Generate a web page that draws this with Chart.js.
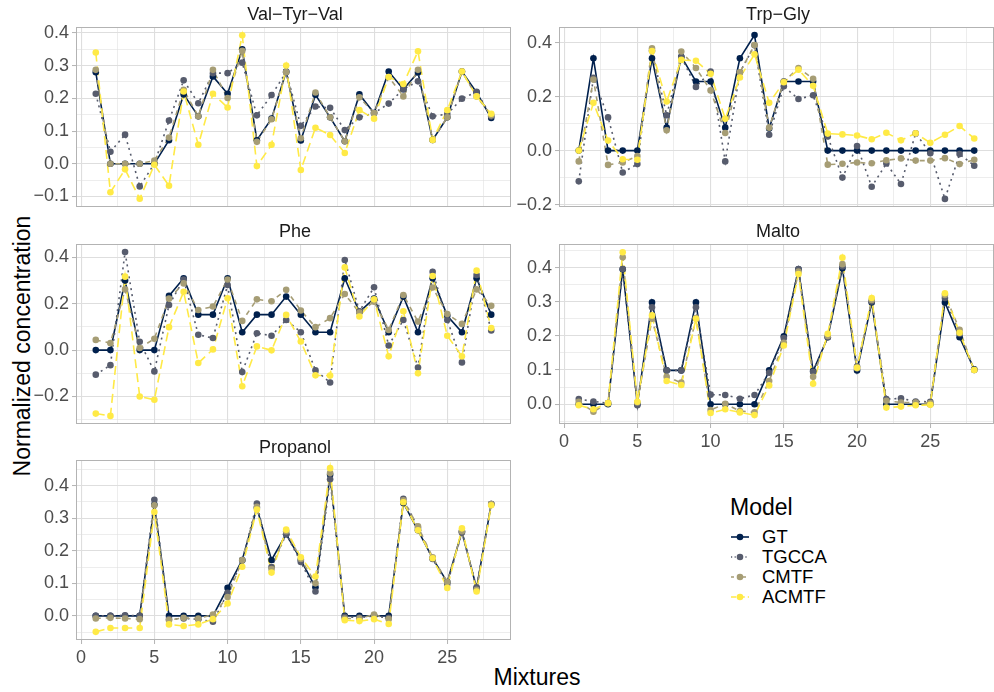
<!DOCTYPE html>
<html>
<head>
<meta charset="utf-8">
<script src="https://cdn.jsdelivr.net/npm/chart.js@4.4.0/dist/chart.umd.min.js"></script>
<style>
  body { margin: 0; background: #fff; }
  #wrap { position: relative; width: 994px; height: 692px; overflow: hidden;
          font-family: "Liberation Sans", Arial, sans-serif; }
  #wrap canvas { position: absolute; }
  .strip { position: absolute; font-size: 18px; color: #1a1a1a; white-space: nowrap;
           transform: translate(-50%, -50%); }
  .axtitle { position: absolute; font-size: 23px; color: #000; white-space: nowrap;
             transform: translate(-50%, -50%); }
  #ytitle { transform: translate(-50%, -50%) rotate(-90deg); }
  #legend { position: absolute; left: 730px; top: 494px; }
  #legend .ltitle { font-size: 23px; color: #000; margin-bottom: 6px; }
  #legend .item { display: flex; align-items: center; height: 20px; }
  #legend .item span { font-size: 18.5px; color: #000; margin-left: 12px; }
</style>
</head>
<body>
<div id="wrap">
  <div class="axtitle" id="ytitle" style="left:22px; top:346px;">Normalized concentration</div>
  <div class="axtitle" style="left:537px; top:677px;">Mixtures</div>
  <div id="legend"></div>
</div>
<script>
const FONT = '"Liberation Sans", Arial, sans-serif';

// =============== DATA ===============
const mixtures = [1, 2, 3, 4, 5, 6, 7, 8, 9, 10, 11, 12, 13, 14, 15, 16, 17, 18, 19, 20, 21, 22, 23, 24, 25, 26, 27, 28];
const models = ["GT", "TGCCA", "CMTF", "ACMTF"];
const xTickLabels = [0, 5, 10, 15, 20, 25];

// Val−Tyr−Val
const valGT    = [0.28, 0, 0, 0, 0, 0.072, 0.212, 0.145, 0.267, 0.214, 0.35, 0.072, 0.138, 0.282, 0.071, 0.211, 0.142, 0.069, 0.212, 0.155, 0.282, 0.228, 0.279, 0.073, 0.142, 0.282, 0.218, 0.14];
const valTGCCA = [0.214, 0.037, 0.089, -0.069, 0, 0.132, 0.255, 0.185, 0.277, 0.277, 0.309, 0.148, 0.21, 0.28, 0.116, 0.175, 0.171, 0.103, 0.142, 0.155, 0.184, 0.228, 0.252, 0.145, 0.152, 0.199, 0.22, 0.145];
const valCMTF  = [0.287, 0, 0, 0, 0.01, 0.08, 0.226, 0.145, 0.287, 0.201, 0.345, 0.067, 0.136, 0.28, 0.078, 0.218, 0.142, 0.069, 0.203, 0.155, 0.265, 0.206, 0.287, 0.073, 0.142, 0.282, 0.206, 0.148];
const valACMTF = [0.34, -0.087, -0.017, -0.107, -0.003, -0.067, 0.221, 0.058, 0.214, 0.172, 0.393, -0.007, 0.058, 0.3, -0.019, 0.11, 0.088, 0.033, 0.164, 0.138, 0.265, 0.244, 0.344, 0.073, 0.164, 0.282, 0.206, 0.153];
const valTicks = [-0.1, 0, 0.1, 0.2, 0.3, 0.4];

// Trp−Gly
const trpGT    = [0, 0.342, 0, 0, 0, 0.342, 0.085, 0.348, 0.256, 0.256, 0.085, 0.342, 0.428, 0.082, 0.256, 0.256, 0.256, 0, 0, 0, 0, 0, 0, 0, 0, 0, 0, 0];
const trpTGCCA = [-0.114, 0.27, 0.123, -0.081, -0.05, 0.37, 0.131, 0.347, 0.236, 0.293, -0.04, 0.29, 0.39, 0.059, 0.238, 0.191, 0.205, 0.052, -0.1, 0.017, -0.134, -0.048, -0.124, 0.064, -0.01, -0.179, -0.013, -0.056];
const trpCMTF  = [-0.04, 0.263, -0.053, -0.044, -0.02, 0.379, 0.075, 0.367, 0.306, 0.223, 0.065, 0.29, 0.391, 0.085, 0.256, 0.306, 0.266, -0.052, -0.049, -0.044, -0.047, -0.036, -0.029, -0.037, -0.037, -0.028, -0.05, -0.034];
const trpACMTF = [0, 0.177, 0.037, -0.032, -0.034, 0.369, 0.182, 0.336, 0.333, 0.285, 0.118, 0.271, 0.357, 0.177, 0.253, 0.3, 0.24, 0.063, 0.06, 0.056, 0.042, 0.066, 0.038, 0.064, 0.029, 0.059, 0.091, 0.045];
const trpTicks = [-0.2, 0, 0.2, 0.4];

// Phe
const pheGT    = [0, 0, 0.3, 0, 0, 0.234, 0.31, 0.153, 0.153, 0.31, 0.077, 0.153, 0.153, 0.231, 0.153, 0.077, 0.077, 0.31, 0.165, 0.222, 0.077, 0.231, 0.077, 0.31, 0.148, 0.077, 0.31, 0.153];
const pheTGCCA = [-0.106, -0.065, 0.423, 0.036, -0.092, 0.195, 0.305, 0.066, 0.052, 0.281, -0.095, 0.073, 0.062, 0.13, 0.077, -0.087, -0.14, 0.389, 0.168, 0.271, 0.02, 0.13, -0.075, 0.338, 0.13, -0.053, 0.324, 0.085];
const pheCMTF  = [0.044, 0.03, 0.262, 0.009, 0.049, 0.222, 0.288, 0.173, 0.188, 0.305, 0.126, 0.219, 0.211, 0.26, 0.171, 0.099, 0.138, 0.242, 0.162, 0.209, 0.087, 0.238, 0.123, 0.27, 0.156, 0.113, 0.262, 0.191];
const pheACMTF = [-0.274, -0.284, 0.317, -0.2, -0.214, 0.099, 0.252, -0.056, 0.003, 0.224, -0.156, 0.016, -0.001, 0.152, 0.037, -0.109, -0.11, 0.357, 0.145, 0.219, -0.027, 0.168, -0.1, 0.32, 0.062, -0.027, 0.343, 0.095];
const pheTicks = [-0.2, 0, 0.2, 0.4];

// Malto
const maltoGT    = [0, 0, 0, 0.395, 0, 0.298, 0.099, 0.099, 0.298, 0, 0, 0, 0, 0.099, 0.199, 0.395, 0.097, 0.196, 0.398, 0.099, 0.298, 0, 0, 0, 0, 0.298, 0.196, 0.102];
const maltoTGCCA = [0.015, 0.008, 0.003, 0.396, -0.003, 0.284, 0.099, 0.099, 0.284, 0.028, 0.027, 0.016, 0.027, 0.092, 0.194, 0.396, 0.095, 0.196, 0.403, 0.11, 0.301, 0.015, 0.017, 0.008, 0.007, 0.311, 0.206, 0.1];
const maltoCMTF  = [0.007, -0.022, 0.003, 0.43, 0.005, 0.25, 0.08, 0.063, 0.252, -0.017, 0.001, -0.02, -0.024, 0.068, 0.18, 0.388, 0.08, 0.2, 0.41, 0.105, 0.305, 0.01, 0.005, 0.005, 0.003, 0.32, 0.218, 0.1];
const maltoACMTF = [-0.003, -0.015, 0.003, 0.445, 0.007, 0.26, 0.068, 0.056, 0.25, -0.026, -0.015, -0.024, -0.032, 0.055, 0.172, 0.381, 0.06, 0.206, 0.429, 0.107, 0.311, -0.01, -0.007, -0.003, -0.002, 0.325, 0.209, 0.1];
const maltoTicks = [0, 0.1, 0.2, 0.3, 0.4];

// Propanol
const propGT    = [0, 0, 0, 0, 0.342, 0, 0, 0, 0, 0.086, 0.172, 0.332, 0.172, 0.251, 0.172, 0.088, 0.434, 0, 0, 0, 0, 0.347, 0.263, 0.177, 0.104, 0.259, 0.085, 0.344];
const propTGCCA = [0, 0, 0.002, 0, 0.357, -0.01, -0.008, -0.01, -0.018, 0.071, 0.17, 0.345, 0.15, 0.251, 0.166, 0.075, 0.42, -0.003, -0.005, 0, -0.006, 0.36, 0.27, 0.175, 0.098, 0.256, 0.088, 0.344];
const propCMTF  = [-0.008, -0.006, -0.008, -0.01, 0.34, -0.013, -0.006, -0.008, 0.004, 0.058, 0.172, 0.335, 0.144, 0.26, 0.175, 0.1, 0.439, -0.008, -0.008, 0.004, -0.01, 0.355, 0.275, 0.18, 0.104, 0.26, 0.08, 0.344];
const propACMTF = [-0.049, -0.037, -0.037, -0.037, 0.319, -0.026, -0.031, -0.026, -0.01, 0.038, 0.151, 0.327, 0.133, 0.265, 0.18, 0.121, 0.454, -0.013, -0.016, -0.01, -0.025, 0.349, 0.263, 0.177, 0.086, 0.269, 0.075, 0.34];
const propTicks = [0, 0.1, 0.2, 0.3, 0.4];

// =============== STYLE / LAYOUT ===============
const modelColors = ["#00204D", "#575C6D", "#A69D75", "#FFEA46"];
const modelDash = [[], [2, 4], [5, 5], [9, 5]];

const PLOT_W = 438, PLOT_H = 180, PAD = 12;
const panels = [
  { title: "Val−Tyr−Val", series: [valGT, valTGCCA, valCMTF, valACMTF], yTicks: valTicks, yMin: -0.132, yMax: 0.418, left: 76, top: 27, axisW: 76, xAxis: false },
  { title: "Trp−Gly", series: [trpGT, trpTGCCA, trpCMTF, trpACMTF], yTicks: trpTicks, yMin: -0.209, yMax: 0.458, left: 559, top: 27, axisW: 79, xAxis: false },
  { title: "Phe", series: [pheGT, pheTGCCA, pheCMTF, pheACMTF], yTicks: pheTicks, yMin: -0.319, yMax: 0.458, left: 76, top: 243.5, axisW: 76, xAxis: false },
  { title: "Malto", series: [maltoGT, maltoTGCCA, maltoCMTF, maltoACMTF], yTicks: maltoTicks, yMin: -0.058, yMax: 0.469, left: 559, top: 243.5, axisW: 79, xAxis: true },
  { title: "Propanol", series: [propGT, propTGCCA, propCMTF, propACMTF], yTicks: propTicks, yMin: -0.074, yMax: 0.479, left: 76, top: 459.5, axisW: 76, xAxis: true },
];

// major + minor grid positions (minor halfway, extended one step past the ends)
function gridValues(major, min, max) {
  const step = major[1] - major[0];
  const out = [];
  for (let v = major[0] - step; v <= major[major.length - 1] + step + 1e-9; v += step / 2) {
    const r = Math.round(v * 1000) / 1000;
    if (r >= min && r <= max) out.push(r);
  }
  return out;
}
const isIn = (list, v) => list.some(t => Math.abs(t - v) < 1e-6);
const fmt = v => (v < 0 ? "−" : "") + Math.abs(v).toFixed(1);

const GRID = "#dedede";
const BORDER = "#b3b3b3";

const panelBorder = {
  id: "panelBorder",
  afterDatasetsDraw(chart) {
    const { ctx, chartArea: a } = chart;
    ctx.save();
    ctx.strokeStyle = BORDER;
    ctx.lineWidth = 1;
    ctx.strokeRect(Math.round(a.left) + 0.5, Math.round(a.top) + 0.5, Math.round(a.right - a.left) - 1, Math.round(a.bottom - a.top) - 1);
    ctx.restore();
  }
};

const wrap = document.getElementById("wrap");

function addPanel(p) {
  const xH = p.xAxis ? 30 : 0;
  const w = p.axisW + PLOT_W + 1;
  const h = PAD + PLOT_H + xH + PAD;
  const cv = document.createElement("canvas");
  cv.width = w; cv.height = h;
  cv.style.width = w + "px"; cv.style.height = h + "px";
  cv.style.left = (p.left - p.axisW) + "px";
  cv.style.top = (p.top - PAD) + "px";
  wrap.appendChild(cv);

  const strip = document.createElement("div");
  strip.className = "strip";
  strip.textContent = p.title;
  strip.style.left = (p.left + PLOT_W / 2) + "px";
  strip.style.top = (p.top - 13) + "px";
  wrap.appendChild(strip);

  const xGrid = gridValues(xTickLabels, -0.35, 29.35);
  const yGrid = gridValues(p.yTicks, p.yMin, p.yMax);

  // lines first (under), then points, like geom_line + geom_point
  const datasets = [];
  p.series.forEach((vals, i) => {
    datasets.push({
      label: models[i] + " line",
      data: mixtures.map((m, k) => ({ x: m, y: vals[k] })),
      borderColor: modelColors[i],
      borderWidth: 1.6,
      borderDash: modelDash[i],
      pointRadius: 0,
      fill: false,
      tension: 0,
      order: 8 - i
    });
  });
  p.series.forEach((vals, i) => {
    datasets.push({
      label: models[i],
      data: mixtures.map((m, k) => ({ x: m, y: vals[k] })),
      showLine: false,
      pointRadius: 3.3,
      pointBackgroundColor: modelColors[i],
      pointBorderColor: modelColors[i],
      pointBorderWidth: 0,
      order: 4 - i
    });
  });

  new Chart(cv, {
    type: "line",
    data: { datasets },
    plugins: [panelBorder],
    options: {
      responsive: false,
      animation: false,
      devicePixelRatio: 1,
      layout: { padding: { top: PAD, bottom: PAD, left: 0, right: 1 } },
      plugins: { legend: { display: false }, tooltip: { enabled: false } },
      scales: {
        x: {
          type: "linear",
          min: -0.35, max: 29.35,
          afterBuildTicks: s => { s.ticks = xGrid.map(v => ({ value: v })); },
          afterFit: s => { s.height = xH; s.paddingLeft = 0; s.paddingRight = 0; },
          ticks: {
            display: p.xAxis, autoSkip: false, maxRotation: 0, minRotation: 0, padding: 3,
            color: "#4d4d4d", font: { size: 18, family: FONT },
            callback: v => isIn(xTickLabels, v) ? String(v) : ""
          },
          grid: {
            color: GRID,
            lineWidth: c => (c.tick && isIn(xTickLabels, c.tick.value)) ? 1.1 : 0.55,
            drawTicks: p.xAxis, tickLength: 4, tickWidth: 1,
            tickColor: c => (c.tick && isIn(xTickLabels, c.tick.value)) ? BORDER : "rgba(0,0,0,0)"
          },
          border: { display: false }
        },
        y: {
          type: "linear",
          min: p.yMin, max: p.yMax,
          afterBuildTicks: s => { s.ticks = yGrid.map(v => ({ value: v })); },
          afterFit: s => { s.width = p.axisW; s.paddingTop = 0; s.paddingBottom = 0; },
          ticks: {
            autoSkip: false, padding: 3,
            color: "#4d4d4d", font: { size: 18, family: FONT },
            callback: v => isIn(p.yTicks, v) ? fmt(v) : ""
          },
          grid: {
            color: GRID,
            lineWidth: c => (c.tick && isIn(p.yTicks, c.tick.value)) ? 1.1 : 0.55,
            drawTicks: true, tickLength: 4, tickWidth: 1,
            tickColor: c => (c.tick && isIn(p.yTicks, c.tick.value)) ? BORDER : "rgba(0,0,0,0)"
          },
          border: { display: false }
        }
      }
    }
  });
}

panels.forEach(addPanel);

// =============== LEGEND ===============
const legend = document.getElementById("legend");
legend.innerHTML = '<div class="ltitle">Model</div>';
models.forEach((m, i) => {
  const item = document.createElement("div");
  item.className = "item";
  const dash = modelDash[i].length ? ` stroke-dasharray="${modelDash[i].map(d => d * 0.6).join(" ")}"` : "";
  item.innerHTML =
    `<svg width="20" height="20"><line x1="1" y1="10" x2="19" y2="10" stroke="${modelColors[i]}" stroke-width="1.6"${dash}/>` +
    `<circle cx="10" cy="10" r="3.3" fill="${modelColors[i]}"/></svg><span>${m}</span>`;
  legend.appendChild(item);
});
</script>
</body>
</html>
